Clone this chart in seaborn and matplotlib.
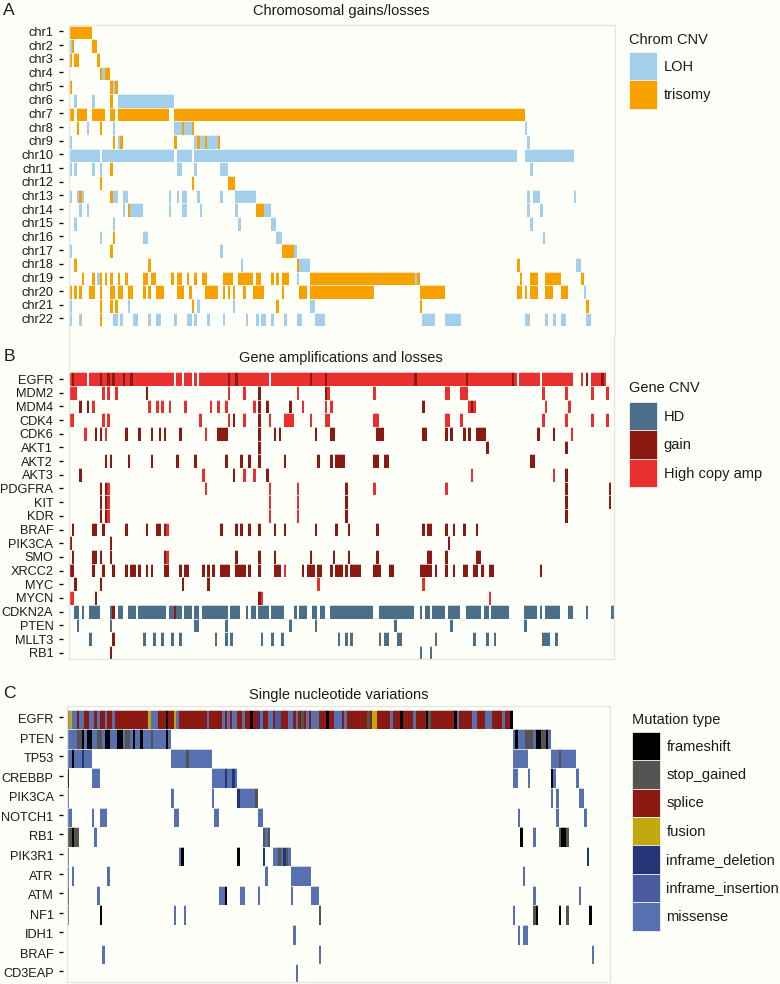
import numpy as np
import pandas as pd
import matplotlib
matplotlib.use("Agg")
import matplotlib.pyplot as plt
from matplotlib.colors import ListedColormap
from matplotlib.patches import Patch
from matplotlib.transforms import ScaledTranslation
import seaborn as sns

sns.set_theme(style="white")
plt.rcParams["font.family"] = ["Liberation Sans", "DejaVu Sans"]

N_SAMPLES = 214
BG = "#FFFFFA"
EDGE = "#E6E6E0"

# ---------- Panel A: chromosomes (start, end, type) ----------
CHROM_TYPES = ["LOH", "trisomy"]
CHROM_COLORS = ["#A3CFEC", "#F7A200"]
chr1 = [(0, 9, "T")]
chr2 = [(0, 1, "L"), (1, 2, "T"), (9, 11, "T")]
chr3 = [(0, 1, "T"), (2, 4, "T"), (11, 12, "T")]
chr4 = [(12, 13, "T"), (13, 14, "L"), (14, 16, "T")]
chr5 = [(0, 1, "T"), (16, 17, "T"), (17, 18, "L"), (18, 19, "T")]
chr6 = [(2, 3, "L"), (9, 10, "L"), (16, 17, "T"), (19, 41, "L")]
chr7 = [(0, 2, "T"), (3, 7, "T"), (9, 14, "T"), (16, 18, "T"), (19, 39, "T"), (41, 178, "T")]
chr8 = [(3, 4, "T"), (7, 8, "L"), (12, 13, "T"), (17, 18, "L"), (41, 44, "L"), (44, 45, "T"), (45, 48, "L"), (48, 49, "T"), (178, 179, "L")]
chr9 = [(0, 1, "L"), (17, 18, "T"), (19, 20, "L"), (20, 21, "T"), (41, 42, "T"), (49, 50, "L"), (50, 51, "T"), (51, 53, "L"), (53, 54, "T"), (54, 58, "L"), (58, 59, "T"), (179, 180, "L")]
chr10 = [(0, 12, "L"), (13, 41, "L"), (42, 48, "L"), (49, 175, "L"), (178, 197, "L")]
chr11 = [(0, 1, "L"), (2, 3, "L"), (9, 10, "L"), (12, 13, "L"), (16, 17, "T"), (42, 44, "L"), (49, 50, "L"), (59, 62, "L"), (180, 181, "L")]
chr12 = [(12, 13, "T"), (48, 49, "T"), (62, 65, "T")]
chr13 = [(0, 1, "L"), (3, 4, "L"), (4, 5, "T"), (5, 6, "L"), (16, 17, "T"), (17, 19, "L"), (21, 23, "L"), (39, 40, "L"), (42, 43, "L"), (44, 46, "L"), (50, 51, "L"), (59, 60, "L"), (65, 73, "L"), (179, 180, "L"), (181, 184, "L"), (197, 198, "L")]
chr14 = [(4, 5, "L"), (7, 8, "L"), (21, 22, "L"), (23, 24, "T"), (24, 29, "L"), (39, 40, "L"), (44, 46, "L"), (51, 52, "L"), (65, 66, "L"), (73, 76, "T"), (76, 79, "L"), (179, 180, "L"), (184, 185, "L")]
chr15 = [(2, 3, "L"), (17, 18, "L"), (66, 67, "L"), (79, 81, "L"), (180, 181, "L")]
chr16 = [(12, 13, "L"), (17, 18, "T"), (29, 31, "L"), (81, 83, "L"), (185, 186, "L")]
chr17 = [(0, 1, "L"), (16, 17, "T"), (59, 60, "L"), (83, 88, "T"), (88, 89, "L")]
chr18 = [(2, 3, "T"), (31, 32, "T"), (67, 68, "L"), (89, 90, "T"), (90, 94, "L"), (175, 176, "T"), (198, 200, "L")]
chr19 = [(5, 6, "T"), (9, 10, "T"), (11, 12, "L"), (12, 13, "T"), (14, 15, "T"), (16, 17, "T"), (19, 20, "T"), (22, 23, "T"), (29, 31, "T"), (32, 34, "T"), (40, 41, "T"), (42, 44, "T"), (46, 47, "T"), (49, 50, "T"), (52, 54, "T"), (60, 64, "T"), (66, 72, "T"), (73, 75, "T"), (79, 80, "T"), (81, 82, "T"), (83, 86, "T"), (89, 90, "L"), (94, 135, "T"), (135, 136, "L"), (136, 137, "T"), (176, 177, "T"), (180, 183, "T"), (186, 192, "T"), (200, 201, "T")]
chr20 = [(0, 1, "T"), (2, 3, "T"), (4, 5, "T"), (8, 10, "T"), (12, 13, "T"), (16, 18, "T"), (19, 21, "T"), (23, 25, "T"), (29, 30, "T"), (31, 32, "T"), (34, 37, "T"), (42, 45, "T"), (47, 48, "T"), (53, 58, "T"), (60, 61, "T"), (62, 63, "T"), (64, 65, "T"), (68, 69, "T"), (72, 76, "T"), (83, 84, "T"), (90, 93, "T"), (94, 119, "T"), (137, 147, "T"), (175, 177, "T"), (178, 179, "T"), (180, 183, "T"), (186, 189, "T"), (192, 195, "T"), (201, 202, "L")]
chr21 = [(0, 1, "L"), (12, 13, "T"), (16, 17, "T"), (18, 19, "T"), (23, 24, "L"), (48, 49, "T"), (50, 51, "L"), (64, 65, "L"), (81, 82, "T"), (94, 96, "L"), (137, 138, "T"), (202, 203, "T")]
chr22 = [(0, 1, "L"), (4, 5, "L"), (12, 13, "T"), (17, 19, "L"), (20, 21, "L"), (25, 27, "L"), (31, 32, "L"), (34, 36, "L"), (41, 42, "L"), (46, 48, "L"), (49, 50, "L"), (54, 55, "L"), (60, 61, "L"), (69, 70, "L"), (73, 74, "L"), (75, 77, "L"), (79, 80, "L"), (84, 85, "L"), (89, 91, "L"), (96, 100, "L"), (138, 143, "L"), (147, 153, "L"), (178, 180, "L"), (186, 187, "L"), (189, 190, "L"), (192, 194, "L"), (202, 204, "L")]
CHROM_LABELS = [f"chr{i}" for i in range(1, 23)]
CHROM_TRACKS = [chr1, chr2, chr3, chr4, chr5, chr6, chr7, chr8, chr9, chr10, chr11, chr12, chr13, chr14, chr15, chr16, chr17, chr18, chr19, chr20, chr21, chr22]

# ---------- Panel B: gene CNV ----------
GENE_TYPES = ["HD", "gain", "High copy amp"]
GENE_COLORS = ["#4B6F89", "#8B1A12", "#E8302F"]
b_EGFR = [(0, 7, "H"), (8, 41, "H"), (42, 44, "H"), (45, 48, "H"), (49, 50, "H"), (51, 78, "H"), (79, 175, "H"), (176, 184, "H"), (185, 197, "H"), (200, 201, "H"), (204, 210, "H"),
          (1, 2, "G"), (12, 13, "G"), (15, 16, "G"), (17, 18, "G"), (21, 22, "G"), (24, 25, "G"), (62, 63, "G"), (65, 66, "G"), (94, 95, "G"), (100, 101, "G"), (135, 136, "G"), (155, 156, "G"), (173, 174, "G"), (202, 203, "G"), (208, 209, "G")]
b_MDM2 = [(0, 3, "H"), (13, 14, "H"), (15, 16, "H"), (18, 19, "H"), (30, 31, "G"), (62, 63, "H"), (68, 69, "H"), (74, 75, "G"), (89, 90, "H"), (100, 101, "G"), (101, 102, "H"), (119, 120, "H"), (147, 149, "H"), (153, 156, "H"), (185, 186, "H"), (194, 195, "H"), (204, 205, "H"), (210, 211, "H")]
b_MDM4 = [(4, 5, "G"), (7, 8, "G"), (9, 10, "H"), (31, 32, "H"), (34, 35, "H"), (36, 37, "H"), (39, 40, "H"), (45, 46, "H"), (55, 56, "H"), (58, 59, "H"), (61, 62, "H"), (72, 73, "H"), (74, 75, "G"), (77, 78, "G"), (86, 87, "G"), (91, 92, "H"), (100, 101, "H"), (102, 103, "H"), (138, 139, "G"), (156, 157, "H"), (157, 158, "G"), (158, 159, "H"), (186, 187, "H"), (195, 196, "H")]
b_CDK4 = [(0, 2, "H"), (13, 14, "H"), (15, 16, "H"), (51, 52, "H"), (62, 63, "H"), (64, 65, "G"), (68, 69, "H"), (74, 75, "G"), (78, 79, "H"), (84, 88, "H"), (94, 95, "H"), (100, 102, "H"), (119, 121, "H"), (147, 149, "H"), (153, 154, "H"), (185, 186, "H"), (194, 195, "H"), (204, 205, "H"), (210, 211, "H")]
b_CDK6 = [(6, 7, "H"), (10, 11, "G"), (12, 13, "G"), (14, 15, "H"), (22, 23, "G"), (27, 28, "G"), (32, 33, "G"), (35, 36, "G"), (37, 38, "G"), (43, 44, "G"), (53, 54, "H"), (58, 62, "G"), (74, 75, "G"), (80, 81, "G"), (82, 83, "G"), (96, 97, "G"), (102, 104, "G"), (120, 123, "G"), (138, 140, "G"), (147, 148, "G"), (149, 150, "G"), (154, 155, "G"), (156, 157, "G"), (159, 163, "G"), (183, 184, "G"), (189, 190, "G"), (196, 197, "H")]
b_AKT1 = [(74, 75, "G"), (163, 164, "G"), (194, 195, "G")]
b_AKT2 = [(14, 15, "G"), (16, 17, "G"), (23, 24, "G"), (32, 33, "G"), (42, 43, "G"), (49, 50, "G"), (61, 62, "G"), (67, 68, "G"), (70, 71, "G"), (74, 75, "G"), (84, 85, "G"), (97, 98, "G"), (102, 103, "G"), (104, 108, "G"), (119, 121, "G"), (123, 125, "G"), (180, 182, "G")]
b_AKT3 = [(4, 5, "G"), (52, 53, "H"), (64, 65, "G"), (68, 69, "H"), (72, 73, "H"), (77, 78, "G"), (157, 158, "H"), (189, 190, "H"), (194, 195, "G")]
b_PDGFRA = [(12, 13, "G"), (14, 15, "G"), (15, 16, "H"), (53, 54, "H"), (78, 79, "H"), (89, 90, "H"), (108, 109, "G"), (119, 120, "H"), (147, 148, "H"), (194, 195, "G"), (211, 212, "G")]
b_KIT = [(12, 13, "G"), (14, 15, "G"), (15, 16, "H"), (78, 79, "H"), (89, 90, "H"), (108, 109, "G"), (194, 195, "G"), (211, 212, "G")]
b_KDR = [(12, 13, "G"), (14, 15, "G"), (15, 16, "H"), (78, 79, "H"), (89, 90, "H"), (108, 109, "G"), (194, 195, "G")]
b_BRAF = [(1, 2, "G"), (9, 11, "G"), (13, 14, "G"), (22, 23, "G"), (30, 31, "G"), (34, 36, "G"), (37, 38, "G"), (38, 39, "H"), (59, 60, "G"), (65, 66, "G"), (67, 68, "G"), (70, 71, "G"), (74, 75, "G"), (80, 81, "G"), (84, 85, "G"), (96, 97, "G"), (104, 105, "G"), (109, 110, "G"), (120, 121, "G"), (138, 139, "G"), (140, 142, "G"), (147, 148, "G"), (150, 151, "G"), (154, 155, "G"), (159, 160, "G")]
b_PIK3CA = [(0, 1, "G"), (16, 17, "G"), (148, 149, "G")]
b_SMO = [(1, 2, "G"), (9, 11, "G"), (12, 13, "G"), (16, 17, "G"), (37, 38, "G"), (38, 39, "H"), (65, 66, "G"), (74, 75, "G"), (80, 81, "G"), (94, 95, "G"), (103, 104, "G"), (109, 110, "G"), (120, 121, "G"), (140, 142, "G"), (147, 148, "G"), (159, 161, "G")]
b_XRCC2 = [(0, 2, "G"), (9, 10, "G"), (13, 14, "G"), (17, 18, "G"), (22, 23, "G"), (24, 26, "G"), (27, 28, "G"), (30, 31, "G"), (32, 33, "G"), (37, 39, "G"), (43, 44, "G"), (45, 47, "G"), (52, 53, "G"), (54, 55, "G"), (56, 57, "G"), (59, 63, "G"), (65, 69, "G"), (70, 71, "G"), (74, 75, "G"), (80, 83, "G"), (84, 85, "H"), (91, 92, "G"), (93, 96, "G"), (97, 99, "G"), (102, 103, "G"), (104, 107, "G"), (108, 109, "G"), (110, 114, "G"), (119, 122, "G"), (125, 127, "G"), (137, 142, "G"), (143, 144, "G"), (147, 148, "G"), (150, 151, "G"), (154, 156, "G"), (158, 160, "G"), (161, 162, "G"), (164, 166, "G"), (184, 185, "G")]
b_MYC = [(2, 3, "G"), (12, 13, "G"), (44, 45, "G"), (54, 55, "G"), (97, 98, "H"), (138, 139, "H")]
b_MYCN = [(0, 2, "H"), (10, 11, "G"), (74, 75, "G"), (75, 76, "H"), (164, 165, "H")]
b_CDKN2A = [(2, 4, "D"), (5, 6, "D"), (8, 12, "D"), (16, 17, "D"), (17, 18, "G"), (19, 21, "D"), (23, 26, "D"), (27, 38, "D"), (39, 41, "D"), (41, 42, "G"), (42, 44, "D"), (45, 48, "D"), (49, 51, "D"), (52, 62, "D"), (63, 67, "D"), (69, 70, "D"), (71, 73, "D"), (74, 78, "D"), (79, 84, "D"), (88, 89, "D"), (90, 93, "D"), (95, 97, "D"), (98, 100, "D"), (102, 119, "D"), (121, 135, "D"), (137, 138, "D"), (139, 141, "D"), (142, 147, "D"), (148, 153, "D"), (155, 161, "D"), (162, 164, "D"), (165, 172, "D"), (178, 183, "D"), (184, 185, "D"), (186, 192, "D"), (195, 197, "D"), (202, 203, "D"), (212, 213, "D")]
b_PTEN = [(3, 4, "D"), (16, 17, "D"), (49, 51, "D"), (61, 62, "D"), (86, 87, "D"), (96, 97, "D"), (127, 128, "D"), (149, 150, "D"), (178, 179, "D")]
b_MLLT3 = [(8, 9, "D"), (17, 18, "G"), (29, 30, "D"), (33, 34, "D"), (36, 37, "D"), (40, 41, "D"), (43, 44, "D"), (57, 58, "D"), (61, 62, "D"), (63, 64, "D"), (75, 76, "D"), (79, 80, "D"), (83, 84, "D"), (105, 106, "D"), (108, 109, "D"), (110, 111, "D"), (121, 122, "D"), (123, 125, "D"), (128, 130, "D"), (143, 144, "D"), (158, 159, "D"), (163, 164, "D"), (166, 167, "D"), (185, 188, "D"), (190, 191, "D")]
b_RB1 = [(16, 17, "G"), (137, 138, "D"), (141, 142, "D")]
GENE_LABELS = ["EGFR", "MDM2", "MDM4", "CDK4", "CDK6", "AKT1", "AKT2", "AKT3", "PDGFRA", "KIT", "KDR", "BRAF", "PIK3CA", "SMO", "XRCC2", "MYC", "MYCN", "CDKN2A", "PTEN", "MLLT3", "RB1"]
GENE_TRACKS = [b_EGFR, b_MDM2, b_MDM4, b_CDK4, b_CDK6, b_AKT1, b_AKT2, b_AKT3, b_PDGFRA, b_KIT, b_KDR, b_BRAF, b_PIK3CA, b_SMO, b_XRCC2, b_MYC, b_MYCN, b_CDKN2A, b_PTEN, b_MLLT3, b_RB1]

# ---------- Panel C: mutations ----------
MUT_TYPES = ["frameshift", "stop_gained", "splice", "fusion", "inframe_deletion", "inframe_insertion", "missense"]
MUT_COLORS = ["#000000", "#565452", "#8B1A12", "#C1AA10", "#263578", "#4A5A9E", "#5770B0"]
c_EGFR = [(0, 1, "M"), (1, 2, "U"), (2, 4, "M"), (4, 5, "P"), (5, 7, "M"), (7, 9, "P"), (9, 11, "M"), (11, 12, "P"), (12, 13, "M"), (13, 15, "P"), (15, 16, "M"), (16, 18, "P"), (18, 19, "M"), (19, 32, "P"), (32, 33, "U"), (33, 36, "M"), (36, 39, "P"), (39, 40, "F"), (40, 42, "P"), (42, 43, "U"), (43, 44, "M"), (44, 55, "P"), (55, 56, "M"), (56, 61, "P"), (61, 62, "M"), (62, 63, "P"), (63, 64, "M"), (64, 65, "P"), (65, 67, "M"), (67, 69, "P"), (69, 70, "M"), (70, 72, "P"), (72, 73, "F"), (73, 75, "P"), (75, 76, "D"), (76, 77, "M"), (77, 79, "P"), (79, 81, "M"), (81, 82, "P"), (82, 84, "I"), (84, 87, "P"), (87, 89, "M"), (89, 90, "P"), (90, 91, "M"), (91, 92, "P"), (92, 93, "S"), (93, 94, "P"), (94, 95, "M"), (95, 96, "P"), (96, 99, "M"), (99, 102, "P"), (102, 103, "F"), (103, 105, "P"), (105, 108, "M"), (108, 109, "P"), (109, 110, "M"), (110, 118, "P"), (118, 119, "S"), (119, 120, "P"), (120, 122, "U"), (122, 127, "P"), (127, 128, "M"), (128, 131, "P"), (131, 132, "F"), (132, 136, "P"), (136, 137, "M"), (137, 141, "P"), (141, 142, "F"), (142, 143, "S"), (143, 152, "P"), (152, 153, "F"), (153, 154, "M"), (154, 159, "P"), (159, 161, "M"), (161, 164, "P"), (164, 167, "M"), (167, 171, "P"), (171, 172, "M"), (172, 174, "P"), (174, 175, "F")]
c_PTEN = [(0, 41, "M"), (4, 6, "S"), (6, 7, "F"), (8, 10, "F"), (12, 14, "S"), (15, 16, "F"), (16, 17, "F"), (20, 22, "F"), (23, 25, "S"), (26, 27, "F"), (29, 30, "F"), (33, 34, "S"), (39, 40, "F"), (175, 190, "M"), (176, 177, "F"), (180, 183, "S"), (184, 186, "F"), (186, 188, "S"), (188, 189, "F")]
c_TP53 = [(0, 10, "M"), (2, 3, "F"), (6, 7, "D"), (41, 57, "M"), (47, 48, "S"), (175, 181, "M"), (190, 200, "M"), (193, 194, "S")]
c_CREBBP = [(0, 1, "F"), (10, 13, "M"), (57, 67, "M"), (62, 63, "D"), (65, 66, "D"), (175, 177, "M"), (181, 182, "M"), (190, 191, "F"), (191, 192, "M"), (200, 201, "M")]
c_PIK3CA = [(0, 1, "M"), (41, 42, "M"), (57, 58, "M"), (67, 68, "D"), (68, 74, "M"), (74, 75, "S"), (190, 191, "M"), (192, 193, "M"), (201, 203, "M")]
c_NOTCH1 = [(0, 2, "M"), (10, 11, "M"), (13, 16, "M"), (42, 44, "M"), (58, 60, "M"), (75, 77, "M"), (177, 178, "M"), (192, 193, "M"), (203, 204, "M")]
c_RB1 = [(0, 2, "S"), (2, 3, "F"), (3, 5, "S"), (11, 12, "M"), (77, 78, "S"), (78, 79, "M"), (79, 80, "S"), (178, 179, "F"), (183, 184, "M"), (193, 194, "S"), (194, 196, "F"), (196, 197, "S")]
c_PIK3R1 = [(0, 1, "M"), (44, 45, "M"), (45, 46, "F"), (67, 68, "F"), (77, 78, "D"), (81, 83, "M"), (83, 84, "S"), (84, 85, "M"), (85, 86, "D"), (86, 87, "S"), (87, 88, "M"), (204, 205, "D")]
c_ATR = [(0, 1, "M"), (2, 3, "M"), (16, 17, "M"), (78, 79, "M"), (88, 96, "M"), (179, 180, "M")]
c_ATM = [(0, 1, "S"), (12, 13, "M"), (60, 62, "M"), (62, 63, "F"), (68, 70, "M"), (75, 76, "M"), (88, 89, "M"), (96, 99, "M"), (183, 184, "M"), (201, 202, "M")]
c_NF1 = [(0, 1, "M"), (13, 14, "F"), (42, 43, "M"), (46, 47, "M"), (99, 100, "S"), (175, 176, "M"), (183, 184, "S"), (184, 185, "F"), (193, 194, "F"), (196, 197, "S"), (205, 206, "F")]
c_IDH1 = [(89, 90, "M"), (177, 178, "M"), (179, 181, "M")]
c_BRAF = [(14, 15, "M"), (99, 100, "M"), (206, 207, "M")]
c_CD3EAP = [(90, 91, "M")]
MUT_LABELS = ["EGFR", "PTEN", "TP53", "CREBBP", "PIK3CA", "NOTCH1", "RB1", "PIK3R1", "ATR", "ATM", "NF1", "IDH1", "BRAF", "CD3EAP"]
MUT_TRACKS = [c_EGFR, c_PTEN, c_TP53, c_CREBBP, c_PIK3CA, c_NOTCH1, c_RB1, c_PIK3R1, c_ATR, c_ATM, c_NF1, c_IDH1, c_BRAF, c_CD3EAP]

W, H = 780, 984
fig = plt.figure(figsize=(W / 100, H / 100), dpi=100, facecolor=BG)


def px_axes(l, t, r, b):
    return fig.add_axes([l / W, 1 - b / H, (r - l) / W, (b - t) / H], facecolor=BG)


def frame(tracks, labels, codes):
    mat = np.full((len(tracks), N_SAMPLES), np.nan)
    for i, track in enumerate(tracks):
        for start, end, c in track:
            mat[i, start:end] = codes[c]
    return pd.DataFrame(mat, index=labels)


def panel(box, tracks, labels, codes, colors, xlim, ylim, spines, axis_gap, tick_dy, label_dy):
    ax = px_axes(*box)
    df = frame(tracks, labels, codes)
    sns.heatmap(df, ax=ax, cmap=ListedColormap(colors), vmin=-0.5, vmax=len(colors) - 0.5,
                cbar=False, xticklabels=False, linewidths=0)
    ax.collections[0].set_antialiased(True)
    ax.hlines(np.arange(len(labels) + 1), 0, N_SAMPLES, color=BG, lw=0.5, zorder=3)
    ax.set_xlim(*xlim)
    ax.set_ylim(*ylim)
    ax.set_xlabel("")
    ax.set_ylabel("")
    for s in ax.spines.values():
        s.set_visible(False)
    ax.spines["left"].set_position(("outward", axis_gap * 0.72))
    ax.set_yticks(np.arange(len(labels)) + 0.5 + tick_dy)
    ax.set_yticklabels(labels, rotation=0, fontsize=9.15, color="#1a1a1a")
    ax.tick_params(axis="y", left=True, length=2.9, width=0.95, color="black", pad=4.1)
    off = ScaledTranslation(0, -label_dy / 100, fig.dpi_scale_trans)
    for lab in ax.get_yticklabels():
        lab.set_transform(lab.get_transform() + off)
    for name in spines:
        xs, ys = {"top": ([0, 1], [1, 1]), "bottom": ([0, 1], [0, 0]),
                  "left": ([0, 0], [0, 1]), "right": ([1, 1], [0, 1])}[name]
        ax.plot(xs, ys, transform=ax.transAxes, color=EDGE, lw=1.0, clip_on=False, zorder=5)
    return ax


def legend(colors, names, title, x, y, size, gap):
    handles = [Patch(facecolor=c, edgecolor="#FFFFFA", linewidth=0.5, label=n) for c, n in zip(colors, names)]
    fs = size / 14.6
    leg = fig.legend(handles=handles, title=title, loc="upper left", bbox_to_anchor=(x / W, 1 - y / H),
                     frameon=False, fontsize=10.5, title_fontsize=10.5, handlelength=fs,
                     handleheight=(fs - 0.245) / 0.65, labelspacing=0, handletextpad=0.42, borderpad=0,
                     borderaxespad=0, alignment="left")
    leg._legend_box.sep = gap * 0.72
    leg.get_title().set_color("#1a1a1a")
    for t in leg.get_texts():
        t.set_color("#1a1a1a")
    return leg


def fig_text(x, y, s, size, ha="center"):
    fig.text(x / W, 1 - y / H, s, fontsize=size, ha=ha, va="center", color="#1a1a1a")


panel((69, 25, 614.5, 335), CHROM_TRACKS, CHROM_LABELS, {"L": 0, "T": 1}, CHROM_COLORS,
      (0, 213), (22.64, -0.04), ("top", "left", "right"), 6, -0.07, 0)
panel((69, 335, 614, 659.3), GENE_TRACKS, GENE_LABELS, {"D": 0, "G": 1, "H": 2}, GENE_COLORS,
      (0, 213), (20.98, -2.715), ("left", "right", "bottom"), 6, 0, 0)
panel((67.3, 705.7, 610.3, 982.3), MUT_TRACKS, MUT_LABELS,
      {"F": 0, "S": 1, "P": 2, "U": 3, "D": 4, "I": 5, "M": 6}, MUT_COLORS,
      (0.35, 213.3), (13.93, -0.21), ("top", "left", "right", "bottom"), 4, -0.13, 1.5)

legend(CHROM_COLORS, CHROM_TYPES, "Chrom CNV", 629, 33, 28.5, 5)
legend(GENE_COLORS, GENE_TYPES, "Gene CNV", 629, 381, 28.5, 7)
legend(MUT_COLORS, MUT_TYPES, "Mutation type", 632, 713, 28.4, 5)

fig_text(341, 11, "Chromosomal gains/losses", 10.5)
fig_text(341, 358, "Gene amplifications and losses", 10.5)
fig_text(339, 694.5, "Single nucleotide variations", 10.5)
fig_text(3, 10.5, "A", 12.6, ha="left")
fig_text(4, 356.5, "B", 12.6, ha="left")
fig_text(3, 694, "C", 12.6, ha="left")

fig.savefig("out.png", dpi=100, facecolor=BG)
